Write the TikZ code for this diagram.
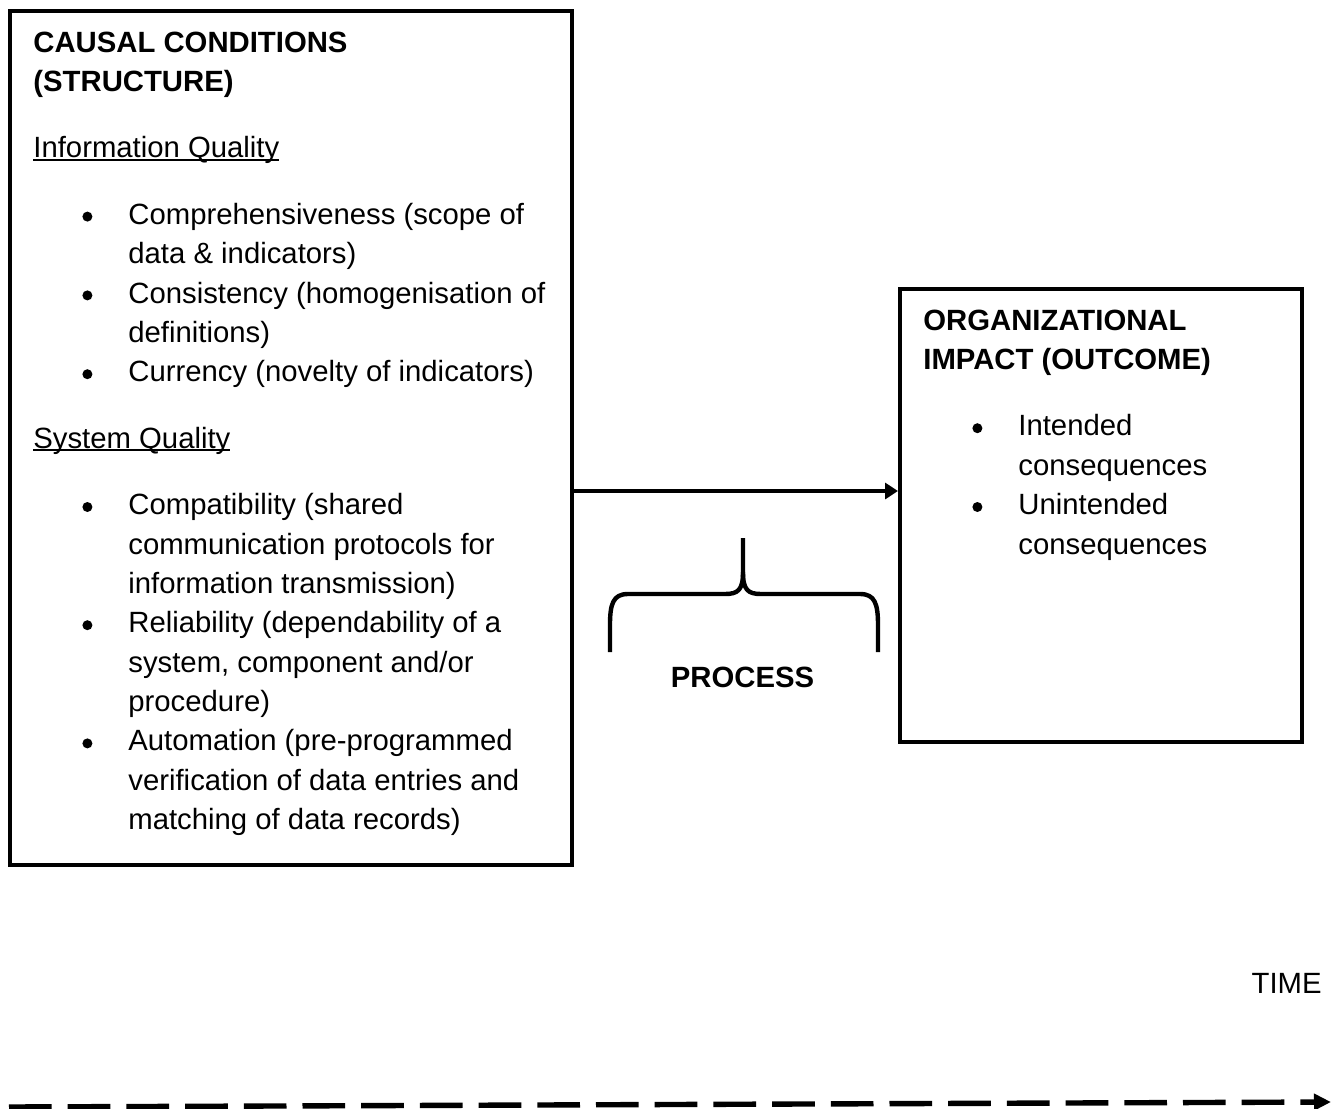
\documentclass[tikz,border=0pt]{standalone}
\usepackage{fontspec}
\setmainfont{Liberation Sans}
\usepackage{enumitem}
\usetikzlibrary{arrows.meta}
\newcommand{\dotlabel}{\tikz[x=1pt,y=1pt,baseline=0pt]\fill (0,3.8) circle (2.5);}
\setlist[itemize]{label=\dotlabel,leftmargin=47.5pt,labelsep=18pt,topsep=13.5pt,partopsep=0pt,itemsep=0pt,parsep=0pt}
\newcommand{\qline}[1]{\leavevmode\setbox0\hbox{#1}\rlap{\rule[-1.4pt]{\wd0}{0.8pt}}\box0}
\newcommand{\boxfont}{\fontsize{14.65pt}{19.7pt}\selectfont}

\begin{document}
\begin{tikzpicture}[x=0.5pt,y=-0.5pt,
    frame/.style={draw,line width=2pt,inner sep=0pt},
    txt/.style={inner sep=0pt,anchor=base west,font=\boxfont},
    flow/.style={line width=2pt,-{Triangle[length=6.5pt,width=8pt]}},
    brace/.style={line width=2.2pt,line join=round},
    timeline/.style={line width=2.7pt,dash pattern=on 21.35pt off 8pt,-{Triangle[length=8.5pt,width=8pt]}}]
  \useasboundingbox (0,0) rectangle (1335,1109);
  \node[frame,minimum width=281pt,minimum height=427pt] (cond) at (291,438) {};
  \node[frame,minimum width=201pt,minimum height=226.5pt] (impact) at (1101,515.5) {};
  \node[txt] (condtext) at (33,52) {\begin{minipage}[t]{270pt}\raggedright
      \textbf{CAUSAL CONDITIONS\\(STRUCTURE)}\par\vspace{13.5pt}
      \qline{Information Quality}
      \begin{itemize}
        \item Comprehensiveness (scope of\\data \& indicators)
        \item Consistency (homogenisation of\\definitions)
        \item Currency (novelty of indicators)
      \end{itemize}
      \qline{System Quality}
      \begin{itemize}
        \item Compatibility (shared\\communication protocols for\\information transmission)
        \item Reliability (dependability of a\\system, component and/or\\procedure)
        \item Automation (pre-programmed\\verification of data entries and\\matching of data records)
      \end{itemize}
    \end{minipage}};
  \node[txt] (impacttext) at (923,330) {\begin{minipage}[t]{185pt}\raggedright
      \textbf{ORGANIZATIONAL\\IMPACT (OUTCOME)}
      \begin{itemize}
        \item Intended\\consequences
        \item Unintended\\consequences
      \end{itemize}
    \end{minipage}};
  \coordinate (lvl) at (0,491);
  \draw[flow] (cond.east |- lvl) -- (impact.west |- lvl);
  \draw[brace] (743,538) -- (743,572) .. controls (743,590) and (738,594) .. (725,594) -- (628,594)
    .. controls (613,594) and (610,604) .. (610,625) -- (610,652);
  \draw[brace] (743,572) .. controls (743,590) and (748,594) .. (761,594) -- (860,594)
    .. controls (875,594) and (878,604) .. (878,625) -- (878,652);
  \node[font=\boxfont\bfseries,inner sep=0pt,anchor=base] (proc) at (742.5,687) {PROCESS};
  \node[font=\boxfont,inner sep=0pt,anchor=base east] (time) at (1322,993) {TIME};
  \coordinate (tstart) at (9,1107);
  \coordinate (tend) at (1331,1102);
  \draw[timeline] (tstart) -- (tend);
\end{tikzpicture}
\end{document}
